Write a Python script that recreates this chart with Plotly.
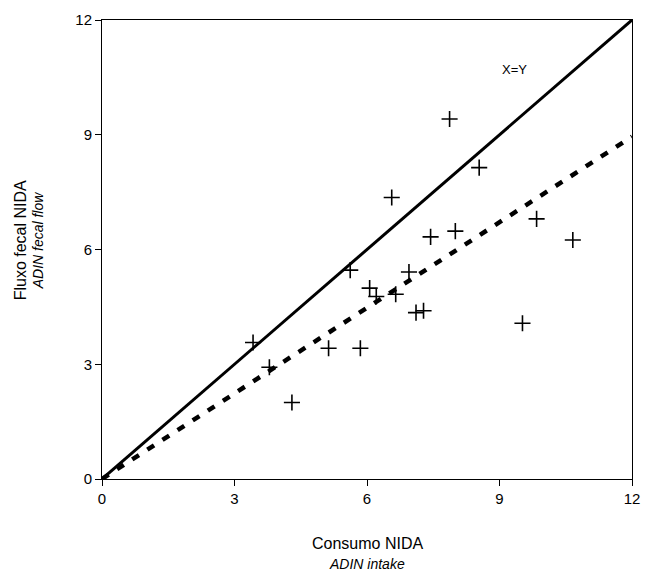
import plotly.graph_objects as go

# Observed data: ADIN intake vs ADIN fecal flow
intake = [3.42, 3.79, 4.30, 5.13, 5.85, 5.62, 6.06, 6.21, 6.65, 6.56,
          6.95, 7.11, 7.28, 7.44, 7.87, 8.00, 8.54, 9.52, 9.84, 10.66]
fecal = [3.57, 2.92, 2.00, 3.42, 3.42, 5.46, 4.99, 4.77, 4.83, 7.36,
         5.41, 4.35, 4.40, 6.33, 9.41, 6.48, 8.14, 4.07, 6.80, 6.25]

# Reference line X=Y and fitted line
identity_x = [0, 12]
identity_y = [0, 12]
fit_x = [0, 12]
fit_y = [0, 8.95]

tick_vals = [0, 3, 6, 9, 12]
tick_text = ["0", "3", "6", "9", "12"]

FONT = "Liberation Sans, Arial, sans-serif"

fig = go.Figure()
fig.add_trace(go.Scatter(x=identity_x, y=identity_y, mode="lines",
                         line=dict(color="black", width=3), showlegend=False))
fig.add_trace(go.Scatter(x=fit_x, y=fit_y, mode="lines",
                         line=dict(color="black", width=4.5, dash="8px,10px"),
                         showlegend=False))
fig.add_trace(go.Scatter(x=intake, y=fecal, mode="markers",
                         marker=dict(symbol="cross-thin", size=11.5,
                                     line=dict(color="black", width=1.6)),
                         showlegend=False))

axis_common = dict(range=[0, 12], tickvals=tick_vals, ticktext=tick_text,
                   showgrid=False, zeroline=False, showline=True,
                   linecolor="black", linewidth=1, mirror=True,
                   ticks="outside", ticklen=6, tickcolor="black",
                   tickfont=dict(family=FONT, size=15, color="black"))

fig.update_layout(
    width=652, height=573,
    margin=dict(l=102, r=20, t=20, b=94),
    paper_bgcolor="white", plot_bgcolor="white",
    xaxis=axis_common,
    yaxis=axis_common,
    font=dict(family=FONT, color="black"),
    annotations=[
        dict(text="X=Y", x=9.35, y=10.7, xref="x", yref="y", showarrow=False,
             font=dict(family=FONT, size=13, color="black")),
        dict(text="Consumo NIDA", x=0.5, y=0, xref="paper", yref="paper",
             yshift=-64, showarrow=False, yanchor="middle",
             font=dict(family=FONT, size=16, color="black")),
        dict(text="<i>ADIN intake</i>", x=0.5, y=0, xref="paper", yref="paper",
             yshift=-85, showarrow=False, yanchor="middle",
             font=dict(family=FONT, size=14, color="black")),
        dict(text="Fluxo fecal NIDA", x=0, y=0.52, xref="paper", yref="paper",
             xshift=-82, showarrow=False, textangle=-90, xanchor="center",
             font=dict(family=FONT, size=16, color="black")),
        dict(text="<i>ADIN fecal flow</i>", x=0, y=0.52, xref="paper", yref="paper",
             xshift=-64, showarrow=False, textangle=-90, xanchor="center",
             font=dict(family=FONT, size=14, color="black")),
    ],
)

fig.write_html("out.html")
